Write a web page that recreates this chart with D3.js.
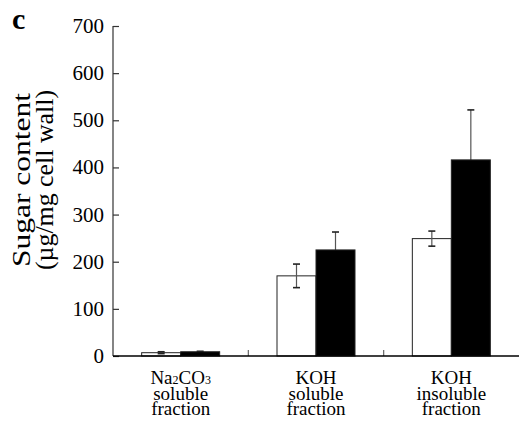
<!DOCTYPE html>
<html><head><meta charset="utf-8">
<script src="https://cdn.jsdelivr.net/npm/d3@7"></script>
<style>body{margin:0;background:#fff}svg{display:block}</style>
</head><body><svg id="c" width="519" height="427"></svg>
<script>
const categories = ["Na2CO3", "KOH soluble", "KOH insoluble"];
const categoryLines = [["Na|2|CO|3","soluble","fraction"],["KOH","soluble","fraction"],["KOH","insoluble","fraction"]];
const openValues = [7, 170, 249];
const openErrors = [2, 25, 16];
const filledValues = [9, 225, 416];
const filledErrors = [1, 38, 106];
const yTicks = [0, 100, 200, 300, 400, 500, 600, 700];

const FONT = "Liberation Serif";
const svg = d3.select("#c");
const m = {l:113, t:26, r:519, b:356};
const x = d3.scaleBand().domain(categories).range([m.l, m.r]).padding(0);
const y = d3.scaleLinear().domain([0,700]).range([m.b, m.t]);
const bw = 39;
const axisColor = "#333";

// y axis
const yAxis = d3.axisRight(y).tickValues(yTicks).tickSize(6).tickFormat("");
const ga = svg.append("g").attr("transform",`translate(${m.l},0)`).call(yAxis);
ga.select(".domain").attr("stroke",axisColor).attr("stroke-width",1.2).attr("d",`M0,${y(700)}V${y(0)}`);
ga.selectAll(".tick line").attr("stroke",axisColor).attr("stroke-width",1.2);
yTicks.forEach(t=>{
  svg.append("text").attr("font-family",FONT).attr("x",m.l-9).attr("y",y(t)+7).attr("text-anchor","end").attr("font-size",21).text(t);
});
// category separator ticks
categories.slice(1).forEach(c=>{
  svg.append("line").attr("x1",x(c)).attr("x2",x(c)).attr("y1",y(0)).attr("y2",y(0)-6).attr("stroke","#666").attr("stroke-width",1.2);
});

function errCap(xm, yy){
  svg.append("line").attr("x1",xm-3.5).attr("x2",xm+3.5).attr("y1",yy).attr("y2",yy).attr("stroke","#222").attr("stroke-width",1.6);
}
// open bars
categories.forEach((c,i)=>{
  const cx = x(c)+x.bandwidth()/2;
  const bx = cx-bw, mid = bx+bw/2;
  svg.append("rect").attr("x",bx).attr("y",y(openValues[i])).attr("width",bw).attr("height",y(0)-y(openValues[i]))
    .attr("fill","#fff").attr("stroke","#222").attr("stroke-width",1);
  const eTop = y(openValues[i]+openErrors[i]), eBot = y(openValues[i]-openErrors[i]);
  svg.append("line").attr("x1",mid).attr("x2",mid).attr("y1",eTop).attr("y2",eBot).attr("stroke","#555").attr("stroke-width",1.2);
  errCap(mid,eTop); errCap(mid,eBot);
});
// filled bars
categories.forEach((c,i)=>{
  const cx = x(c)+x.bandwidth()/2;
  const bx = cx, mid = bx+bw/2;
  const eTop = y(filledValues[i]+filledErrors[i]);
  svg.append("line").attr("x1",mid).attr("x2",mid).attr("y1",eTop).attr("y2",y(filledValues[i])).attr("stroke","#555").attr("stroke-width",1.2);
  errCap(mid,eTop);
  svg.append("rect").attr("x",bx).attr("y",y(filledValues[i])).attr("width",bw).attr("height",y(0)-y(filledValues[i]))
    .attr("fill","#000").attr("stroke","#222").attr("stroke-width",1);
});
// x axis
svg.append("line").attr("x1",m.l).attr("x2",m.r).attr("y1",y(0)).attr("y2",y(0)).attr("stroke","#000").attr("stroke-width",1.5);

// x labels
categories.forEach((c,i)=>{
  const cx = x(c)+x.bandwidth()/2;
  categoryLines[i].forEach((ln,j)=>{
    const t = svg.append("text").attr("font-family",FONT).attr("x",cx).attr("y",384+j*15.5).attr("text-anchor","middle").attr("font-size",19);
    if(ln.includes("|")){
      ln.split("|").forEach((part,k)=>{
        if(k%2===1) t.append("tspan").attr("font-size",12).text(part);
        else t.append("tspan").text(part);
      });
    } else t.text(ln);
  });
});

// y label
svg.append("text").attr("font-family",FONT).attr("transform","translate(30,180) rotate(-90)").attr("text-anchor","middle").attr("font-size",25)
  .attr("textLength",174).attr("lengthAdjust","spacingAndGlyphs").text("Sugar content");
svg.append("text").attr("font-family",FONT).attr("transform","translate(53,180) rotate(-90)").attr("text-anchor","middle").attr("font-size",25)
  .attr("textLength",180).attr("lengthAdjust","spacingAndGlyphs").text("(µg/mg cell wall)");

// panel letter
svg.append("text").attr("font-family",FONT).attr("x",12).attr("y",29).attr("font-size",30).attr("font-weight","bold").text("c");
</script></body></html>
